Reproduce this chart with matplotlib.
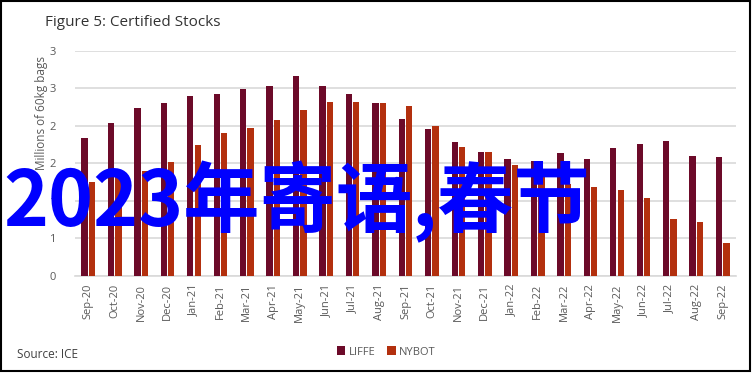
import numpy as np
import matplotlib.pyplot as plt
from matplotlib.patches import Rectangle

# ---- data (millions of 60kg bags) ----
months = ["Sep-20", "Oct-20", "Nov-20", "Dec-20", "Jan-21", "Feb-21", "Mar-21",
          "Apr-21", "May-21", "Jun-21", "Jul-21", "Aug-21", "Sep-21", "Oct-21",
          "Nov-21", "Dec-21", "Jan-22", "Feb-22", "Mar-22", "Apr-22", "May-22",
          "Jun-22", "Jul-22", "Aug-22", "Sep-22"]
liffe = [1.84, 2.04, 2.24, 2.30, 2.39, 2.42, 2.49, 2.53, 2.66, 2.53, 2.42, 2.30,
         2.09, 1.96, 1.78, 1.65, 1.55, 1.53, 1.63, 1.55, 1.70, 1.75, 1.80, 1.59, 1.58]
nybot = [1.25, 1.35, 1.40, 1.52, 1.74, 1.90, 1.97, 2.07, 2.21, 2.32, 2.32, 2.30,
         2.26, 2.00, 1.71, 1.65, 1.48, 1.38, 1.22, 1.18, 1.14, 1.03, 0.75, 0.71, 0.43]
y_ticks = [0, 0.5, 1.0, 1.5, 2.0, 2.5, 3.0]
y_tick_labels = ["0", "1", "1", "2", "2", "3", "3"]

c_liffe = "#6c0a29"
c_nybot = "#b3300e"
grey = "#595959"

plt.rcParams['font.family'] = ['Open Sans', 'DejaVu Sans']

W, H = 753, 375
fig = plt.figure(figsize=(W / 100, H / 100), dpi=100)
ax = fig.add_axes([75 / W, 1 - 275.5 / H, 661 / W, 224.8 / H])

x = np.arange(len(months))
bw = 0.24
ax.bar(x - bw / 2 - 0.02, liffe, width=bw, color=c_liffe, label="LIFFE", zorder=3)
ax.bar(x + bw / 2 + 0.02, nybot, width=bw, color=c_nybot, label="NYBOT", zorder=3)

ax.set_xlim(-0.5, len(months) - 0.5)
ax.set_ylim(0, 3.0)
ax.set_yticks(y_ticks)
ax.set_yticklabels(y_tick_labels)
ax.set_xticks(x)
ax.set_xticklabels(months, rotation=90)
ax.tick_params(axis="both", length=0, colors=grey, labelsize=8)
ax.tick_params(axis="y", pad=14)
ax.tick_params(axis="x", pad=6)
ax.grid(True, axis="y", color="#d9d9d9", linewidth=1.2, zorder=0)
for s in ["top", "right", "left"]:
    ax.spines[s].set_visible(False)
ax.spines["bottom"].set_color("#d9d9d9")
ax.spines["bottom"].set_linewidth(1.2)

fig.text(41 / W, 1 - 113 / H, "Millions of 60kg bags", rotation=90,
         ha="center", va="center", color=grey, fontsize=8.5)
fig.text(45 / W, 1 - 22 / H, "Figure 5: Certified Stocks", ha="left",
         va="center", color="#333333", fontsize=11)
fig.text(17 / W, 1 - 355 / H, "Source: ICE", ha="left", va="center",
         color="#404040", fontsize=8.5)

fig.legend(loc="center", bbox_to_anchor=(386 / W, 1 - 352 / H), ncol=2,
           frameon=False, fontsize=8, handlelength=0.8, handleheight=0.8,
           handletextpad=0.3, columnspacing=1.0, labelcolor=grey)

fig.text(3 / W, 1 - 226 / H, "2023年寄语,春节", ha="left", va="baseline",
         color="#0000ff", fontsize=55, fontweight="bold",
         family=['Noto Sans CJK SC', 'DejaVu Sans'])

fig.add_artist(Rectangle((1 / W, 1 - 371 / H), 749 / W, 370 / H,
                         transform=fig.transFigure, fill=False,
                         edgecolor="black", linewidth=1.5))

fig.savefig("out.png", dpi=100)
